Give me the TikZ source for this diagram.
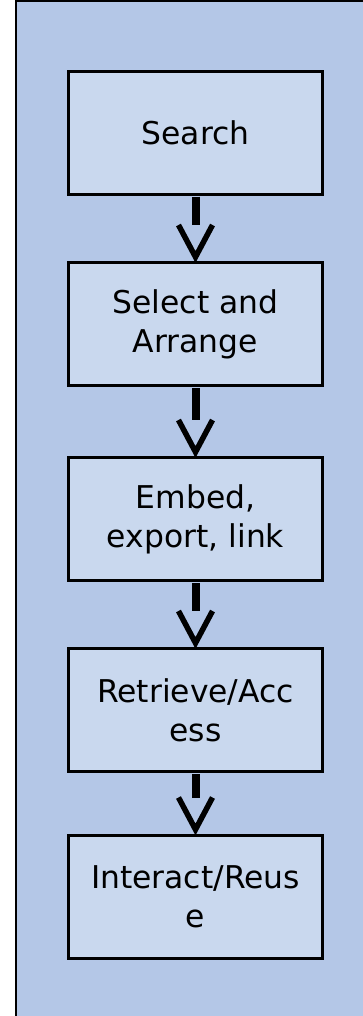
\documentclass[tikz,border=0pt]{standalone}
\usepackage{fontspec}
\setmainfont{DejaVu Sans}
\usetikzlibrary{calc}
\definecolor{panelblue}{RGB}{180,199,231}
\definecolor{boxblue}{RGB}{201,216,238}
\tikzset{
  stepbox/.style={draw=black, line width=3bp, fill=boxblue,
    minimum width=253bp, minimum height=123bp, inner sep=0pt,
    align=center, font=\fontsize{31.5}{39}\selectfont},
  shaft/.style={line width=8bp},
  vhead/.style={line width=5.5bp, line join=miter}
}
\begin{document}
\begin{tikzpicture}[x=1bp,y=-1bp]
\useasboundingbox (0,0) rectangle (362,1016);
% background panel
\draw[line width=2bp, fill=panelblue] (16,0.5) rectangle (380,1030);

% process steps
\node[stepbox] (s1) at (195.5,132.5) {Search};
\node[stepbox] (s2) at (195.5,324) {Select and\\Arrange};
\node[stepbox] (s3) at (195.5,519) {Embed,\\export, link};
\node[stepbox] (s4) at (195.5,710) {Retrieve/Acc\\ess};
\node[stepbox] (s5) at (195.5,896.5) {Interact/Reus\\e};

% arrows between consecutive steps
\foreach \a/\b in {s1/s2, s2/s3, s3/s4, s4/s5}{
  \coordinate (tip) at ($(\b.north)+(0,-4)$);
  \draw[shaft] ($(\a.south)+(0,1)$) -- ($(tip)+(0,-32)$);
  \draw[vhead] ($(tip)+(-17,-32)$) -- (tip) -- ($(tip)+(17,-32)$);
}
\end{tikzpicture}
\end{document}
